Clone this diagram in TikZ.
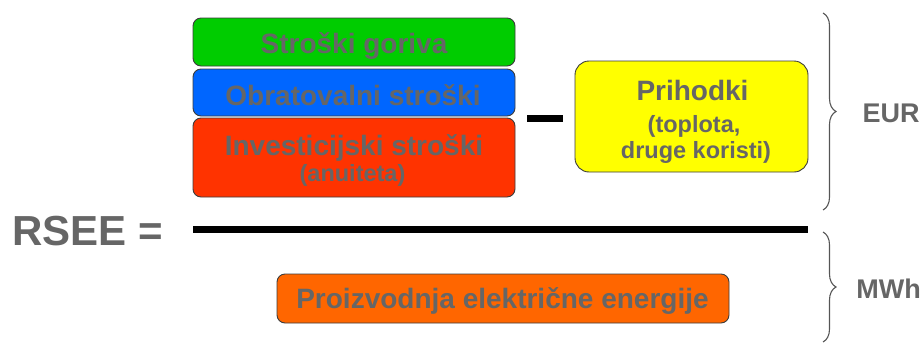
\documentclass[tikz,border=0pt]{standalone}
\usepackage{fontspec}
\setmainfont{Liberation Sans}
\usetikzlibrary{decorations.pathreplacing}

\definecolor{txt}{HTML}{666666}
\definecolor{boxedge}{HTML}{3C3C3C}
\definecolor{gorivo}{HTML}{00CC00}
\definecolor{obrat}{HTML}{0066FF}
\definecolor{invest}{HTML}{FF3300}
\definecolor{prihod}{HTML}{FFFF00}
\definecolor{proiz}{HTML}{FF6600}
\definecolor{brc}{HTML}{555555}

\begin{document}
\begin{tikzpicture}[x=1pt,y=-1pt,
  box/.style={draw=boxedge, line width=0.9pt, rounded corners=8pt, inner sep=0pt},
  lbl/.style={text=txt, anchor=base, inner sep=0pt},
  big/.style={lbl, font=\fontsize{28}{34}\selectfont\bfseries},
  small/.style={lbl, font=\fontsize{23.5}{28}\selectfont\bfseries},
  unit/.style={lbl, font=\fontsize{27}{32}\selectfont\bfseries},
  bar/.style={line width=7pt, black},
  curly/.style={draw=brc, line width=1.1pt, decorate,
                decoration={brace, amplitude=13pt}}
]
\useasboundingbox (0,0) rectangle (923,343);

% cost boxes
\node[box, fill=gorivo, minimum width=322pt, minimum height=48pt] (gor) at (354,42) {};
\node[box, fill=obrat,  minimum width=322pt, minimum height=47pt] (obr) at (354,92.5) {};
\node[box, fill=invest, minimum width=322pt, minimum height=79pt] (inv) at (354,157.5) {};
% revenue box
\node[box, fill=prihod, rounded corners=14pt, minimum width=233pt, minimum height=111pt] (pri) at (691.5,116.5) {};
% production box
\node[box, fill=proiz, minimum width=452pt, minimum height=49pt] (pro) at (503,298.5) {};

% labels
\node[big] (tgor) at (354,53) {Stroški goriva};
\node[big] (tobr) at (353,105) {Obratovalni stroški};
\node[big] (tinv) at (354,155) {Investicijski stroški};
\node[small] (tanu) at (352.5,181) {(anuiteta)};
\node[big] (tpri) at (692.5,100) {Prihodki};
\node[small] (ttop) at (694,132) {(toplota,};
\node[small] (tdru) at (696,158.5) {druge koristi)};
\node[big] (tpro) at (502.5,308) {Proizvodnja električne energije};
\node[lbl, font=\fontsize{42}{50}\selectfont\bfseries] (rsee) at (87.5,245) {RSEE =};
\node[unit] (eur) at (891,122) {EUR};
\node[unit] (mwh) at (888.5,298) {MWh};

% minus sign and fraction bar
\coordinate (m1) at (527,118.5);
\coordinate (m2) at (563,118.5);
\draw[bar] (m1) -- (m2);
\coordinate (f1) at (193,229.5);
\coordinate (f2) at (808,229.5);
\draw[bar] (f1) -- (f2);

% braces
\coordinate (b1) at (823,13);
\coordinate (b2) at (823,210);
\coordinate (b3) at (823,232);
\coordinate (b4) at (823,342);
\draw[curly] (b1) -- (b2);
\draw[curly] (b3) -- (b4);
\end{tikzpicture}
\end{document}
